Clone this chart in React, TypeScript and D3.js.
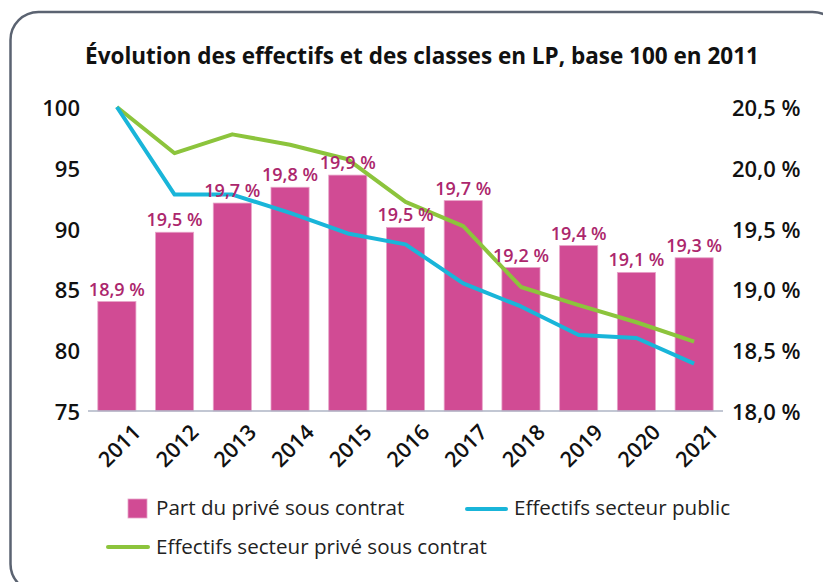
import React from "react";
import * as d3 from "d3";

const years = ["2011", "2012", "2013", "2014", "2015", "2016", "2017", "2018", "2019", "2020", "2021"];
const partPrive = [18.9, 19.47, 19.71, 19.84, 19.94, 19.51, 19.73, 19.18, 19.36, 19.14, 19.26];
const effPublic = [100, 92.8, 92.8, 91.3, 89.6, 88.7, 85.5, 83.6, 81.25, 81.0, 78.9];
const effPrive = [100, 96.2, 97.75, 96.9, 95.7, 92.2, 90.2, 85.2, 83.7, 82.3, 80.7];
const leftTicks = [75, 80, 85, 90, 95, 100];
const rightTicks = [18.0, 18.5, 19.0, 19.5, 20.0, 20.5];

const title = "Évolution des effectifs et des classes en LP, base 100 en 2011";
const legendBars = "Part du privé sous contrat";
const legendPublic = "Effectifs secteur public";
const legendPrive = "Effectifs secteur privé sous contrat";

const FONT = "'Open Sans', 'Noto Sans', sans-serif";
const BAR = "#d14b94";
const LABEL = "#ac276d";
const BLUE = "#19b5d9";
const GREEN = "#8cc43c";

const fmt = (v: number, d: number) => v.toFixed(d).replace(".", ",") + " %";

export default function App() {
  const W = 823, H = 582;
  const x = d3.scaleBand<string>().domain(years).range([88, 723]).paddingInner(0.34).paddingOuter(0.17);
  const yL = d3.scaleLinear().domain([75, 100]).range([411, 107]);
  const yR = d3.scaleLinear().domain([18, 20.5]).range([411, 107]);
  const cx = (i: number) => (x(years[i]) as number) + x.bandwidth() / 2;
  const line = d3.line<number>().x((_, i) => cx(i)).y((d) => yL(d));

  return (
    <svg width={W} height={H} style={{ position: "absolute", left: 0, top: 0 }} fontFamily={FONT}>
      <rect x={0} y={0} width={W} height={H} fill="#fff" />
      <rect x={10.5} y={12} width={830} height={580} rx={28} ry={28} fill="none" stroke="#5b6371" strokeWidth={2.5} />
      <text x={422} y={64} textAnchor="middle" fontSize={22.5} fontWeight={700} fill="#111">{title}</text>

      {leftTicks.map((t) => (
        <text key={"l" + t} x={80} y={yL(t)} textAnchor="end" dominantBaseline="central" fontSize={22} fontWeight={600} fill="#111">{t}</text>
      ))}
      {rightTicks.map((t) => (
        <text key={"r" + t} x={732} y={yR(t)} textAnchor="start" dominantBaseline="central" fontSize={22} fontWeight={600} fill="#111">{fmt(t, 1)}</text>
      ))}

      {partPrive.map((v, i) => (
        <rect key={"b" + i} x={x(years[i])} y={yR(v)} width={x.bandwidth()} height={yR(18) - yR(v)} fill={BAR} stroke="#e7a3c8" strokeWidth={0.8} />
      ))}
      <line x1={88} x2={723} y1={yR(18)} y2={yR(18)} stroke="#aeb4c4" strokeWidth={1.5} />

      <path d={line(effPrive) || ""} fill="none" stroke={GREEN} strokeWidth={4} strokeLinejoin="round" />
      <path d={line(effPublic) || ""} fill="none" stroke={BLUE} strokeWidth={4} strokeLinejoin="round" />

      {partPrive.map((v, i) => (
        <text key={"t" + i} x={cx(i)} y={yR(v) - 6} textAnchor="middle" fontSize={18} fontWeight={600} fill={LABEL}>{fmt(v, 1)}</text>
      ))}

      {years.map((yv, i) => (
        <text key={"x" + yv} transform={`translate(${cx(i) + 2},${445}) rotate(-45)`} textAnchor="middle" dominantBaseline="central" fontSize={21.5} fontWeight={600} fill="#111">{yv}</text>
      ))}

      <rect x={128} y={499} width={19} height={19} fill={BAR} stroke="#e7a3c8" strokeWidth={0.8} />
      <text x={156} y={515} fontSize={20.6} fill="#222">{legendBars}</text>
      <line x1={467} x2={506} y1={509} y2={509} stroke={BLUE} strokeWidth={4} strokeLinecap="round" />
      <text x={514} y={515} fontSize={20.6} fill="#222">{legendPublic}</text>
      <line x1={108} x2={148} y1={547} y2={547} stroke={GREEN} strokeWidth={4} strokeLinecap="round" />
      <text x={156} y={554} fontSize={20.6} fill="#222">{legendPrive}</text>
    </svg>
  );
}
